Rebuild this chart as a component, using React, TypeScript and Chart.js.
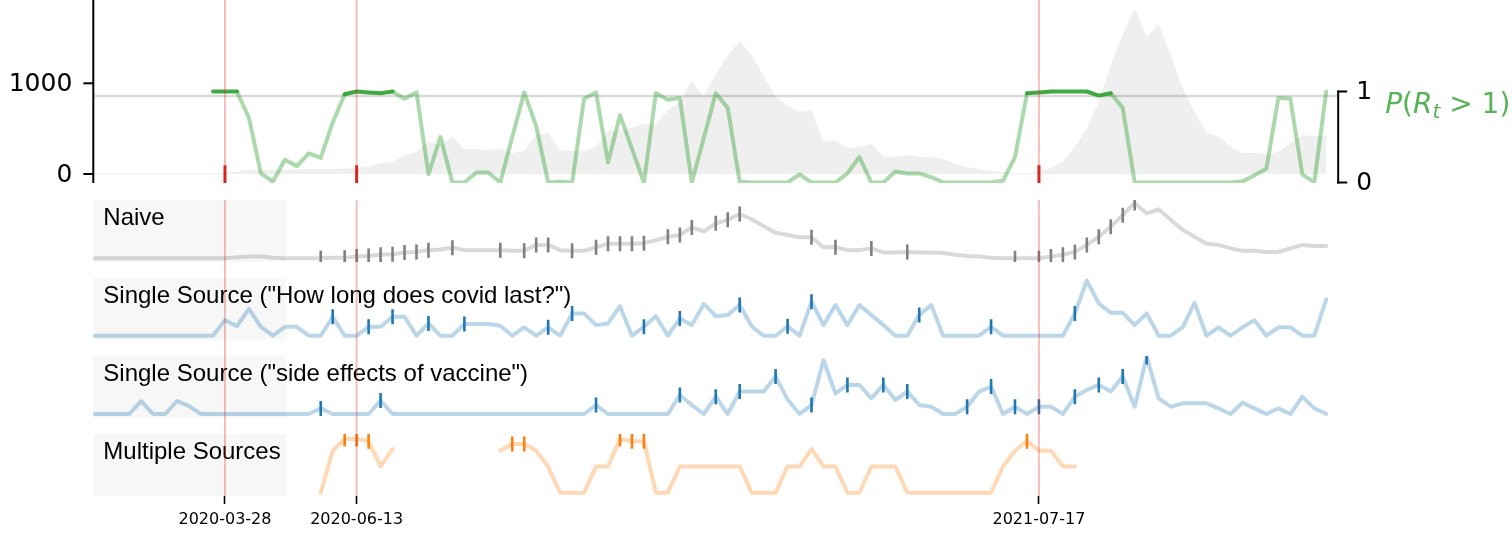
import React, { useEffect, useRef } from "react";
import { Chart, registerables } from "chart.js";

Chart.register(...registerables);

// ---------- data (weekly, index 0 = 2020-01-11) ----------
const eventWeeks = [11, 22, 79];
const eventLabels = ["2020-03-28", "2020-06-13", "2021-07-17"];
const caseTicks = [0, 1000];
const threshold = 0.95;
const shadeEnd = 16.1;

const panelTitles = [
  "Naive",
  'Single Source ("How long does covid last?")',
  'Single Source ("side effects of vaccine")',
  "Multiple Sources",
];

const cases = [
  12, 12, 12, 12, 12, 12, 12, 12, 12, 12,
  12, 15, 25, 50, 45, 45, 50, 50, 55, 55,
  55, 60, 70, 80, 121, 132, 209, 243, 353, 320,
  408, 276, 276, 265, 276, 232, 254, 430, 452, 265,
  254, 250, 301, 474, 485, 510, 551, 540, 706, 797,
  1025, 852, 1103, 1312, 1470, 1312, 1080, 849, 750, 687,
  706, 353, 375, 287, 298, 331, 198, 187, 209, 187,
  187, 165, 110, 77, 55, 33, 22, 11, 11, 22,
  66, 143, 298, 507, 794, 1202, 1544, 1830, 1510, 1654,
  1312, 948, 684, 452, 419, 298, 232, 232, 221, 243,
  342, 430, 419, 419,
];

const pRt = [
  null, null, null, null, null, null, null, null, null, null,
  1.0, 1.0, 1.0, 0.71, 0.1, 0.01, 0.25, 0.18, 0.32, 0.27,
  0.66, 0.97, 1.0, 0.99, 0.98, 1.0, 0.92, 0.99, 0.09, 0.5,
  0, 0, 0.11, 0.11, 0, 0.5, 0.99, 0.62, 0, 0.01,
  0, 0.92, 0.99, 0.22, 0.74, 0.37, 0, 0.98, 0.91, 0.93,
  0, 0.49, 0.98, 0.82, 0.01, 0, 0, 0, 0, 0.09,
  0, 0, 0, 0.1, 0.28, 0, 0, 0.12, 0.1, 0.1,
  0.06, 0, 0, 0, 0, 0, 0.02, 0.28, 0.98, 0.99,
  1.0, 1.0, 1.0, 1.0, 0.955, 0.98, 0.82, 0, 0, 0,
  0, 0, 0, 0, 0, 0, 0.01, 0.08, 0.15, 0.93,
  0.92, 0.09, 0, 1.0,
];

const naive = [
  0, 0, 0, 0, 0, 0, 0, 0, 0, 0,
  0, 0, 2, 3, 3, 1, 0, 0, 0, 0,
  1, 1, 3, 4, 6, 7, 10, 11, 14, 15,
  18, 14, 14, 14, 14, 13, 13, 23, 23, 14,
  13, 13, 19, 25, 25, 25, 26, 31, 37, 40,
  53, 46, 60, 66, 76, 67, 55, 44, 40, 36,
  36, 19, 19, 14, 14, 17, 10, 10, 11, 10,
  10, 9, 6, 4, 3, 1, 0, 0, 0, 0,
  3, 6, 11, 23, 37, 54, 74, 95, 77, 84,
  66, 49, 37, 25, 23, 17, 13, 13, 11, 11,
  17, 23, 21, 21,
];
const naiveMarks = [19, 21, 22, 23, 24, 25, 26, 27, 28, 30, 34, 36, 37, 38, 40, 42, 43, 44, 45, 46, 48, 49, 50, 52, 53, 54, 60, 62, 65, 68, 77, 79, 80, 81, 82, 83, 84, 85, 86, 87];

const single1 = [
  0, 0, 0, 0, 0, 0, 0, 0, 0, 0,
  0, 28, 17, 48, 16, 0, 16, 16, 0, 0,
  34, 0, 0, 16, 16, 34, 34, 0, 22, 0,
  0, 21, 21, 21, 18, 0, 15, 0, 15, 0,
  40, 40, 19, 22, 53, 0, 16, 35, 0, 31,
  19, 57, 35, 37, 55, 17, 0, 0, 17, 0,
  61, 19, 55, 19, 55, 37, 19, 0, 0, 37,
  55, 0, 0, 0, 0, 16, 0, 0, 0, 0,
  0, 0, 40, 99, 58, 41, 41, 19, 40, 0,
  0, 15, 59, 0, 15, 0, 15, 28, 0, 15,
  15, 0, 0, 65,
];
const single1Marks = [20, 23, 25, 28, 31, 38, 40, 46, 49, 54, 58, 60, 69, 75, 82];

const single2 = [
  0, 0, 0, 0, 23, 0, 0, 23, 14, 0,
  0, 0, 0, 0, 0, 0, 0, 0, 0, 10,
  0, 0, 0, 0, 24, 0, 0, 0, 0, 0,
  0, 0, 0, 0, 0, 0, 0, 0, 0, 0,
  0, 0, 16, 0, 0, 0, 0, 0, 0, 34,
  16, 0, 31, 0, 40, 40, 40, 67, 26, 0,
  16, 96, 37, 52, 52, 28, 52, 25, 40, 16,
  13, 0, 0, 13, 40, 49, 0, 13, 0, 13,
  13, 0, 31, 43, 52, 40, 67, 13, 102, 28,
  13, 19, 19, 19, 10, 0, 20, 10, 0, 10,
  0, 31, 10, 0,
];
const single2Marks = [19, 24, 42, 49, 52, 54, 57, 60, 63, 66, 68, 73, 75, 77, 79, 82, 84, 86, 88];

const multi = [
  null, null, null, null, null, null, null, null, null, null,
  null, null, null, null, null, null, null, null, null, 0,
  75, 96, 96, 92, 47, 78, null, null, null, null,
  null, null, null, null, 75, 87, 87, 75, 46, 0,
  0, 0, 47, 47, 96, 92, 92, 0, 0, 47,
  47, 47, 47, 47, 47, 0, 0, 0, 47, 47,
  78, 47, 47, 0, 0, 47, 47, 47, 0, 0,
  0, 0, 0, 0, 0, 0, 47, 75, 92, 75,
  75, 47, 47, null, null, null, null, null, null, null,
  null, null, null, null, null, null, null, null, null, null,
  null, null, null, null,
];
const multiMarks = [21, 22, 23, 35, 36, 44, 45, 46, 78];

// ---------- layout (pixels) ----------
const W = 1512;
const H = 534;
const LEFT = 93.3;
const RIGHT = 1338.2;
const BOTTOM = 496;
const TOP_PANEL = { top: 0, bottom: 183 };
const PANELS = [
  { top: 200, bottom: 262, base: 258.3, k: 0.583 },
  { top: 278, bottom: 340, base: 335.7, k: 0.557 },
  { top: 356, bottom: 418, base: 414, k: 0.56 },
  { top: 434, bottom: 496, base: 492.7, k: 0.56 },
];
// value -> pixel mapping of each y axis: pixel = base - k * value
const AXES: Record<string, { base: number; k: number }> = {
  yC: { base: 174, k: 0.0907 },
  yP: { base: 182.5, k: 91 },
  y0: PANELS[0],
  y1: PANELS[1],
  y2: PANELS[2],
  y3: PANELS[3],
};

const GREEN_DARK = "rgba(44,160,44,0.9)";
const GREEN_LIGHT = "rgba(44,160,44,0.4)";

const pts = (arr: (number | null)[]) => arr.map((v, i) => ({ x: i, y: v }));
const marks = (arr: (number | null)[], idx: number[]) => idx.map((i) => ({ x: i, y: arr[i] }));

function line(ctx: CanvasRenderingContext2D, x1: number, y1: number, x2: number, y2: number) {
  ctx.beginPath();
  ctx.moveTo(x1, y1);
  ctx.lineTo(x2, y2);
  ctx.stroke();
}

const decor = {
  id: "decor",
  beforeDatasetsDraw(chart: any) {
    const { ctx, chartArea: a, scales } = chart;
    const x1 = scales.x.getPixelForValue(shadeEnd);
    ctx.save();
    ctx.fillStyle = "#f7f7f7";
    PANELS.forEach((p) => ctx.fillRect(a.left, p.top, x1 - a.left, p.bottom - p.top));
    ctx.restore();
  },
  beforeDatasetDraw(chart: any, args: any) {
    if (args.index !== 1) return;
    const { ctx, chartArea: a, scales } = chart;
    const y = scales.yP.getPixelForValue(threshold);
    ctx.save();
    ctx.strokeStyle = "rgba(0,0,0,0.15)";
    ctx.lineWidth = 2.5;
    line(ctx, a.left, y, a.right, y);
    ctx.restore();
  },
  afterDatasetsDraw(chart: any) {
    const { ctx, chartArea: a, scales } = chart;
    const xs = scales.x;
    const yP = scales.yP;
    const yC = scales.yC;
    ctx.save();
    // panel titles
    ctx.fillStyle = "#000";
    ctx.textAlign = "left";
    ctx.textBaseline = "alphabetic";
    ctx.font = "24px 'Liberation Sans', Arial, sans-serif";
    PANELS.forEach((p, k) => ctx.fillText(panelTitles[k], a.left + 10, p.top + 25));
    // dark red event markers in top panel
    ctx.strokeStyle = "#d62728";
    ctx.lineWidth = 3;
    eventWeeks.forEach((w) => {
      const x = xs.getPixelForValue(w);
      line(ctx, x, yP.getPixelForValue(0.19), x, TOP_PANEL.bottom);
    });
    // red vertical lines
    ctx.strokeStyle = "rgba(214,39,40,0.3)";
    ctx.lineWidth = 2;
    eventWeeks.forEach((w) => {
      const x = xs.getPixelForValue(w);
      line(ctx, x, TOP_PANEL.top, x, TOP_PANEL.bottom);
      line(ctx, x, PANELS[0].top, x, BOTTOM);
    });
    // left spine for cases
    ctx.strokeStyle = "#000";
    ctx.lineWidth = 2;
    line(ctx, a.left, TOP_PANEL.top, a.left, TOP_PANEL.bottom);
    ctx.font = "25px 'DejaVu Sans'";
    ctx.textAlign = "right";
    ctx.textBaseline = "middle";
    caseTicks.forEach((t) => {
      const y = yC.getPixelForValue(t);
      line(ctx, a.left - 10, y, a.left, y);
      ctx.fillText(String(t), a.left - 21, y + 1);
    });
    // right bracket for P(Rt>1)
    const xr = a.right;
    const y0 = yP.getPixelForValue(0);
    const y1 = yP.getPixelForValue(1);
    ctx.lineCap = "square";
    line(ctx, xr, y1, xr, y0);
    line(ctx, xr, y1, xr + 8, y1);
    line(ctx, xr, y0, xr + 8, y0);
    ctx.textAlign = "left";
    ctx.fillText("1", xr + 18, y1 + 1);
    ctx.fillText("0", xr + 18, y0 + 1);
    // P(R_t > 1) label
    ctx.fillStyle = "rgba(44,160,44,0.8)";
    ctx.textBaseline = "alphabetic";
    let x = xr + 47;
    const yb = 113;
    const part = (s: string, font: string, dy = 0) => {
      ctx.font = font;
      ctx.fillText(s, x, yb + dy);
      x += ctx.measureText(s).width;
    };
    part("P", "italic 28px 'DejaVu Sans'");
    part("(", "28px 'DejaVu Sans'");
    part("R", "italic 28px 'DejaVu Sans'");
    part("t", "italic 20px 'DejaVu Sans'", 5);
    part(" > 1)", "28px 'DejaVu Sans'");
    ctx.restore();
  },
};

function buildConfig(): any {
  const lineDs = (data: any, color: string, axis: string, p: { top: number; bottom: number }) => ({
    type: "line",
    data,
    yAxisID: axis,
    borderColor: color,
    borderWidth: 4,
    borderJoinStyle: "round",
    borderCapStyle: "round",
    pointRadius: 0,
    tension: 0,
    spanGaps: false,
    fill: false,
    _panel: p,
  });
  const markDs = (data: any, color: string, axis: string, p: { top: number; bottom: number }) => ({
    type: "line",
    data,
    yAxisID: axis,
    showLine: false,
    pointStyle: "line",
    rotation: 90,
    pointRadius: 7.5,
    pointHoverRadius: 7.5,
    pointBorderWidth: 2.6,
    pointHoverBorderWidth: 2.6,
    borderColor: color,
    backgroundColor: color,
    _panel: p,
  });

  const datasets: any[] = [
    {
      type: "line",
      data: pts(cases),
      yAxisID: "yC",
      borderWidth: 0,
      borderColor: "rgba(0,0,0,0)",
      backgroundColor: "#efefef",
      fill: "origin",
      pointRadius: 0,
      tension: 0,
      _panel: TOP_PANEL,
    },
    {
      type: "line",
      data: pts(pRt),
      yAxisID: "yP",
      borderWidth: 4,
      borderJoinStyle: "round",
      borderCapStyle: "round",
      pointRadius: 0,
      tension: 0,
      fill: false,
      segment: {
        borderColor: (c: any) => (c.p0.parsed.y >= threshold && c.p1.parsed.y >= threshold ? GREEN_DARK : GREEN_LIGHT),
      },
      borderColor: GREEN_LIGHT,
      _panel: TOP_PANEL,
    },
    lineDs(pts(naive), "rgba(128,128,128,0.3)", "y0", PANELS[0]),
    markDs(marks(naive, naiveMarks), "#7f7f7f", "y0", PANELS[0]),
    lineDs(pts(single1), "rgba(31,119,180,0.3)", "y1", PANELS[1]),
    markDs(marks(single1, single1Marks), "#1f77b4", "y1", PANELS[1]),
    lineDs(pts(single2), "rgba(31,119,180,0.3)", "y2", PANELS[2]),
    markDs(marks(single2, single2Marks), "#1f77b4", "y2", PANELS[2]),
    lineDs(pts(multi), "rgba(255,127,14,0.3)", "y3", PANELS[3]),
    markDs(marks(multi, multiMarks), "#ff7f0e", "y3", PANELS[3]),
  ];
  // later datasets on top
  datasets.forEach((d, i) => (d.order = 100 - i));

  const yScales: Record<string, any> = {};
  Object.keys(AXES).forEach((id) => {
    const m = AXES[id];
    yScales[id] = { type: "linear", display: false, min: (m.base - BOTTOM) / m.k, max: m.base / m.k };
  });

  return {
    type: "line",
    data: { datasets },
    options: {
      animation: false,
      responsive: false,
      events: [],
      layout: { padding: { left: LEFT, right: W - RIGHT, top: 0, bottom: 0 } },
      plugins: { legend: { display: false }, tooltip: { enabled: false } },
      scales: {
        x: {
          type: "linear",
          min: 0,
          max: 104,
          afterBuildTicks: (s: any) => {
            s.ticks = eventWeeks.map((v) => ({ value: v }));
          },
          afterFit: (s: any) => {
            s.height = H - BOTTOM;
          },
          ticks: {
            autoSkip: false,
            maxRotation: 0,
            minRotation: 0,
            padding: 6,
            color: "#000",
            font: { family: "'DejaVu Sans'", size: 16 },
            callback: (v: number) => {
              const k = eventWeeks.indexOf(v);
              return k >= 0 ? eventLabels[k] : "";
            },
          },
          grid: { drawOnChartArea: false, drawTicks: true, tickLength: 8, tickWidth: 1.6, tickColor: "#000" },
          border: { display: false },
        },
        ...yScales,
      },
    },
    plugins: [decor],
  };
}

// second pass: fit every y axis and clip box to the real chart area
function calibrate(chart: any) {
  const a = chart.chartArea;
  Object.keys(AXES).forEach((id) => {
    const m = AXES[id];
    chart.options.scales[id].min = (m.base - a.bottom) / m.k;
    chart.options.scales[id].max = (m.base - a.top) / m.k;
  });
  chart.data.datasets.forEach((d: any) => {
    const p = d._panel;
    d.clip = { left: 0, right: 0, top: a.top - p.top, bottom: p.bottom - a.bottom };
  });
  chart.update();
}

export default function App() {
  const ref = useRef<HTMLCanvasElement>(null);
  useEffect(() => {
    if (!ref.current) return;
    const chart = new Chart(ref.current, buildConfig());
    calibrate(chart);
    return () => chart.destroy();
  }, []);
  return (
    <div style={{ position: "absolute", left: 0, top: 0, width: W, height: H, background: "#fff" }}>
      <canvas ref={ref} width={W} height={H} style={{ display: "block", width: W, height: H }} />
    </div>
  );
}
